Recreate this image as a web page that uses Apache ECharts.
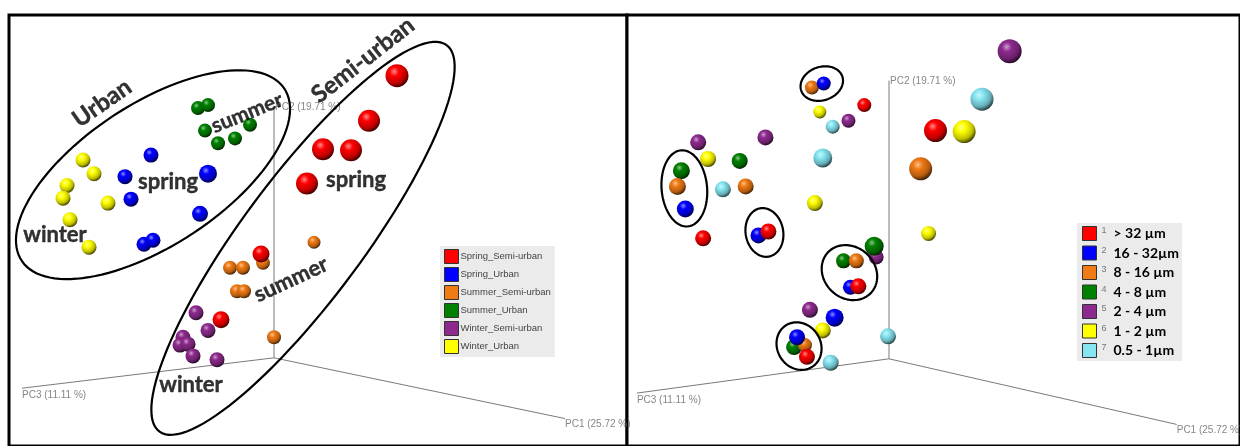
<!DOCTYPE html>
<html>
<head>
<meta charset="utf-8">
<script src="https://cdn.jsdelivr.net/npm/echarts@6/dist/echarts.min.js"></script>
<style>
  html, body { margin: 0; padding: 0; background: #fff; }
  #chart { width: 1240px; height: 446px; }
</style>
</head>
<body>
<div id="chart"></div>
<script>
// Projected PCA scores, one row per sample: [screen-projected x, screen-projected y, depth].
// Origin of each panel sits at the junction of the three PC axes.

// ---- Panel A: season x site ----
const seasonSiteNames = ['Spring_Semi-urban', 'Spring_Urban', 'Summer_Semi-urban', 'Summer_Urban', 'Winter_Semi-urban', 'Winter_Urban'];
const springSemiUrban = [[123, 288, 11], [95, 242, 10], [49, 213, 10], [77, 212, 10], [33, 178, 10], [-13, 106, 5], [-53, 39, 5]];
const springUrban = [[-123, 207, 3], [-149, 185, 3], [-66, 188, 6], [-143, 162, 3], [-74, 147, 4], [-130, 116, 3], [-121, 120, 3]];
const summerSemiUrban = [[-44, 92, 2], [-31, 92, 2], [-11, 97, 2], [-37, 68, 2], [-30, 68, 2], [0, 21, 2], [40, 118, 1]];
const summerUrban = [[-76, 255, 2], [-66, 258, 2], [-69, 232, 2], [-56, 219, 2], [-39, 224, 2], [-24, 238, 2]];
const winterSemiUrban = [[-78, 46, 3], [-66, 28, 3], [-91, 21, 3], [-94, 13, 3], [-86, 14, 3], [-81, 2, 3], [-57, -2, 3]];
const winterUrban = [[-191, 202, 3], [-180, 188, 3], [-207, 176, 3], [-211, 163, 3], [-166, 158, 3], [-204, 141, 3], [-185, 113, 3]];

// ---- Panel B: particle size classes ----
const sizeClassNames = ['> 32 µm', '16 - 32µm', '8 - 16 µm', '4 - 8 µm', '2 - 4 µm', '1 - 2 µm', '0.5 - 1µm'];
const sizeGt32 = [[-25, 259, 2], [47, 233, 11], [-188, 123, 4], [-122, 130, 4], [-31, 74, 4], [-83, 2, 4]];
const size16to32 = [[-66, 281, 2], [-206, 153, 5], [-132, 126, 4], [-39, 73, 3], [-55, 42, 6], [-93, 22, 4]];
const size8to16 = [[-78, 277, 2], [32, 194, 11], [-214, 176, 5], [-145, 176, 4], [-33, 100, 3], [-85, 14, 2]];
const size4to8 = [[-151, 202, 4], [-210, 192, 5], [-15, 115, 7], [-46, 100, 3], [-96, 12, 4]];
const size2to4 = [[122, 314, 12], [-41, 243, 2], [-193, 221, 4], [-125, 226, 4], [-13, 104, 3], [-80, 50, 4]];
const size1to2 = [[76, 232, 11], [-70, 252, 1], [-183, 204, 4], [-75, 159, 4], [40, 128, 3], [-67, 29, 4]];
const size05to1 = [[94, 265, 11], [-57, 237, 2], [-67, 205, 7], [-168, 173, 4], [-59, -4, 4], [-1, 23, 4]];

// Axis end points (same projected units) and axis titles
const axisTitles = ['PC1 (25.72 %)', 'PC2 (19.71 %)', 'PC3 (11.11 %)'];
const axisEndsA = [[291, -62], [0, 257], [-252, -31]];
const axisEndsB = [[291, -67], [0, 284], [-255, -35]];

// Grouping ellipses: [centre x, centre y, semi-major, semi-minor, angle in degrees]
const groupEllipsesA = [[-121, 187, 158, 72, 34], [29, 122, 244, 61, 54]];
const groupEllipsesB = [[-68, 281, 22, 17, 20], [-207, 174, 39, 23, 95], [-126, 129, 25, 19, 100], [-40, 88, 30, 26, 135], [-91, 13, 25, 22, 120]];

// Group annotations in panel A
const groupLabels = [
  { text: 'Urban', at: [-172, 260], angle: 35, size: 24 },
  { text: 'Semi-urban', at: [89, 304], angle: 38, size: 24 },
  { text: 'summer', at: [-27, 250], angle: 22, size: 21 },
  { text: 'spring', at: [-106, 180], angle: 0, size: 22 },
  { text: 'winter', at: [-219, 125], angle: 0, size: 22 },
  { text: 'spring', at: [82, 182], angle: 0, size: 22 },
  { text: 'summer', at: [17, 80], angle: 25, size: 22 },
  { text: 'winter', at: [-83, -28], angle: 0, size: 22 }
];

const COLORS = {
  red: '#ff0000', blue: '#0000ff', orange: '#f07a14', green: '#008000',
  purple: '#8e2a8e', yellow: '#ffff00', cyan: '#86e6f2'
};

function mix(hex, target, t) {
  const a = parseInt(hex.slice(1), 16), b = parseInt(target.slice(1), 16);
  const ch = (v, s) => (v >> s) & 255;
  const m = s => Math.round(ch(a, s) + (ch(b, s) - ch(a, s)) * t);
  return 'rgb(' + m(16) + ',' + m(8) + ',' + m(0) + ')';
}

// Shaded ball look for each sample
function sphere(c) {
  return {
    type: 'radial', x: 0.38, y: 0.32, r: 0.72,
    colorStops: [
      { offset: 0, color: mix(c, '#ffffff', 0.55) },
      { offset: 0.28, color: c },
      { offset: 0.7, color: mix(c, '#000000', 0.25) },
      { offset: 1, color: mix(c, '#000000', 0.8) }
    ]
  };
}

function ballSeries(name, data, color, idx) {
  return {
    type: 'scatter', name, data,
    xAxisIndex: idx, yAxisIndex: idx,
    symbolSize: v => 12 + v[2],
    itemStyle: { color: sphere(color), opacity: 1 },
    silent: true, emphasis: { disabled: true }, z: 5
  };
}

function axisLineSeries(ends, idx) {
  return ends.map(e => ({
    type: 'line', data: [[0, 0], e], xAxisIndex: idx, yAxisIndex: idx,
    symbol: 'none', silent: true, z: 2,
    lineStyle: { color: '#7a7a7a', width: 1 }
  }));
}

function axisTitleSeries(ends, idx) {
  const placement = [
    { position: 'bottom', align: 'left', distance: 1 },
    { position: 'right', distance: 1, offset: [0, 1] },
    { position: 'bottom', align: 'left', distance: 2 }
  ];
  return {
    type: 'scatter', xAxisIndex: idx, yAxisIndex: idx, symbolSize: 0, silent: true, z: 3,
    data: ends.map((e, i) => ({
      value: e, name: axisTitles[i],
      label: Object.assign({
        show: true, formatter: '{b}', color: '#666', fontSize: 10,
        fontFamily: 'Liberation Sans'
      }, placement[i])
    }))
  };
}

function ellipseSeries(rows, idx) {
  return {
    type: 'custom', xAxisIndex: idx, yAxisIndex: idx, silent: true, z: 8,
    clip: true,
    data: rows,
    renderItem: (params, api) => {
      const cx = api.value(0), cy = api.value(1), a = api.value(2), b = api.value(3);
      const phi = api.value(4) * Math.PI / 180;
      const pts = [];
      for (let k = 0; k <= 120; k++) {
        const t = k / 120 * Math.PI * 2;
        const x = cx + a * Math.cos(t) * Math.cos(phi) - b * Math.sin(t) * Math.sin(phi);
        const y = cy + a * Math.cos(t) * Math.sin(phi) + b * Math.sin(t) * Math.cos(phi);
        pts.push(api.coord([x, y]));
      }
      return {
        type: 'polyline', shape: { points: pts },
        style: { fill: null, stroke: '#000', lineWidth: 2.2 }
      };
    }
  };
}

const series = [];
series.push(...axisLineSeries(axisEndsA, 0), axisTitleSeries(axisEndsA, 0));
series.push(...axisLineSeries(axisEndsB, 1), axisTitleSeries(axisEndsB, 1));

// Panel A balls (drawn back to front)
series.push(
  ballSeries('Winter_Urban', winterUrban, COLORS.yellow, 0),
  ballSeries('Spring_Urban', springUrban, COLORS.blue, 0),
  ballSeries('Summer_Urban', summerUrban, COLORS.green, 0),
  ballSeries('Summer_Semi-urban', summerSemiUrban, COLORS.orange, 0),
  ballSeries('Winter_Semi-urban', winterSemiUrban, COLORS.purple, 0),
  ballSeries('Spring_Semi-urban', springSemiUrban, COLORS.red, 0)
);

// Panel B balls
series.push(
  ballSeries(sizeClassNames[4], size2to4, COLORS.purple, 1),
  ballSeries(sizeClassNames[6], size05to1, COLORS.cyan, 1),
  ballSeries(sizeClassNames[5], size1to2, COLORS.yellow, 1),
  ballSeries(sizeClassNames[3], size4to8, COLORS.green, 1),
  ballSeries(sizeClassNames[2], size8to16, COLORS.orange, 1),
  ballSeries(sizeClassNames[1], size16to32, COLORS.blue, 1),
  ballSeries(sizeClassNames[0], sizeGt32, COLORS.red, 1)
);

series.push(ellipseSeries(groupEllipsesA, 0), ellipseSeries(groupEllipsesB, 1));

series.push({
  type: 'scatter', xAxisIndex: 0, yAxisIndex: 0, symbolSize: 0, silent: true, z: 9,
  data: groupLabels.map(l => ({
    value: l.at, name: l.text,
    label: {
      show: true, position: 'inside', formatter: '{b}', rotate: l.angle,
      fontSize: l.size, fontWeight: 'bold', fontFamily: 'Lato', color: '#000',
      textBorderColor: '#000', textBorderWidth: 0.4
    }
  }))
});

const legendA = ['red', 'blue', 'orange', 'green', 'purple', 'yellow'];
const legendB = ['red', 'blue', 'orange', 'green', 'purple', 'yellow', 'cyan'];

const chart = echarts.init(document.getElementById('chart'), null, { renderer: 'canvas' });
chart.setOption({
  animation: false,
  backgroundColor: '#fff',
  grid: [
    { left: 9, top: 15, width: 618, height: 440, show: true, borderColor: '#000', borderWidth: 3, backgroundColor: '#fff' },
    { left: 627, top: 15, width: 620, height: 440, show: true, borderColor: '#000', borderWidth: 3, backgroundColor: '#fff' }
  ],
  xAxis: [
    { type: 'value', gridIndex: 0, min: -265, max: 353, show: false },
    { type: 'value', gridIndex: 1, min: -265, max: 355, show: false }
  ],
  yAxis: [
    { type: 'value', gridIndex: 0, min: -90, max: 350, show: false },
    { type: 'value', gridIndex: 1, min: -89, max: 351, show: false }
  ],
  legend: [
    {
      left: 440, top: 246, orient: 'vertical', selectedMode: false,
      backgroundColor: '#ebebeb', padding: [3, 4, 3, 4], itemGap: 3,
      itemWidth: 14, itemHeight: 14, icon: 'rect',
      textStyle: { color: '#444', fontSize: 9.5, fontFamily: 'Liberation Sans', padding: [0, 0, 0, -3] },
      data: seasonSiteNames.map((n, i) => ({
        name: n, itemStyle: { color: COLORS[legendA[i]], borderColor: '#333', borderWidth: 1 }
      }))
    },
    {
      left: 1077, top: 223, orient: 'vertical', selectedMode: false,
      backgroundColor: '#ebebeb', padding: [3, 3, 3, 5], itemGap: 4.5,
      itemWidth: 14, itemHeight: 14, icon: 'rect',
      formatter: name => '{n|' + (sizeClassNames.indexOf(name) + 1) + '}{t|' + name + '}',
      textStyle: {
        rich: {
          n: { fontSize: 9, color: '#777', width: 12, fontFamily: 'Liberation Sans', verticalAlign: 'top' },
          t: { fontSize: 14, fontWeight: 'bold', color: '#000', fontFamily: 'Lato' }
        }
      },
      data: sizeClassNames.map((n, i) => ({
        name: n, itemStyle: { color: COLORS[legendB[i]], borderColor: '#333', borderWidth: 1 }
      }))
    }
  ],
  series
});
</script>
</body>
</html>
